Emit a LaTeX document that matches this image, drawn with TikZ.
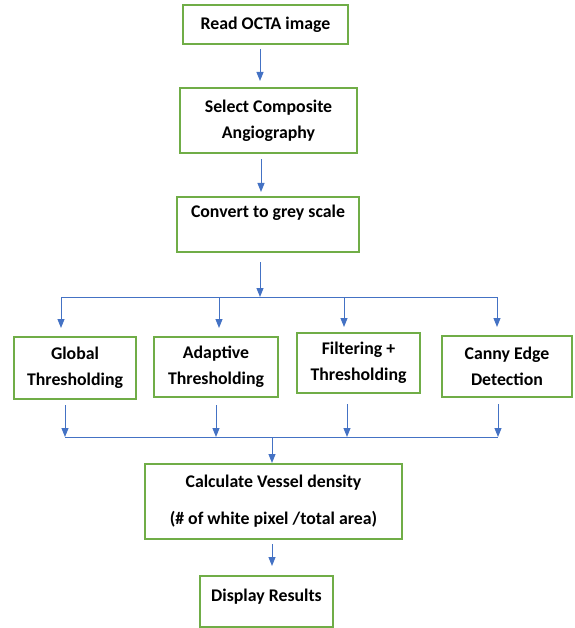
\documentclass[tikz,border=0pt]{standalone}
\usepackage{fontspec}
\setmainfont{Carlito}
\usetikzlibrary{arrows.meta}

\definecolor{boxgreen}{HTML}{70AD47}
\definecolor{arrowblue}{HTML}{4472C4}

\tikzset{
	stage/.style={draw=boxgreen, line width=2pt, fill=white, align=center, inner sep=0pt,
		font=\bfseries\fontsize{17.8}{26}\selectfont},
	flow/.style={draw=arrowblue, line width=1pt, -{Triangle[width=7pt,length=9pt]}},
	joinline/.style={draw=arrowblue, line width=1pt},
}

\begin{document}
\begin{tikzpicture}[x=1pt,y=-1pt]
\useasboundingbox (0,0) rectangle (574,628);

	%read image
\node[stage, minimum width=165, minimum height=39] (read) at (265.5,24.5) {Read OCTA image};

	%composite angiography
\node[stage, minimum width=177, minimum height=65] (composite) at (268.5,120.5) {Select Composite\\Angiography};

	%grey scale
\node[stage, minimum width=182, minimum height=55] (grey) at (268,224.5) {Convert to grey scale\\\mbox{}};


%four methods
\node[stage, minimum width=122, minimum height=62] (global) at (75,368) {Global\\Thresholding};
\node[stage, minimum width=124, minimum height=60] (adaptive) at (216,367) {Adaptive\\Thresholding};
\node[stage, minimum width=123, minimum height=60] (filtering) at (358.5,363) {Filtering +\\Thresholding};
\node[stage, minimum width=130, minimum height=61] (canny) at (507,366.5) {Canny Edge\\Detection};

	%vessel density
\node[stage, minimum width=257, minimum height=75] (density) at (273.5,501.5) {Calculate Vessel density\\[11pt](\# of white pixel /total area)};

	%results
\node[stage, minimum width=133, minimum height=51] (results) at (266.5,601.5) {Display Results\\[-14pt]\mbox{}};

%split and merge points
\coordinate (split) at (260,297);
\coordinate (s1) at (61,297);
\coordinate (s2) at (219,297);
\coordinate (s3) at (344,297);
\coordinate (s4) at (497,297);
\coordinate (merge) at (272,437);
\coordinate (m1) at (65,437);
\coordinate (m2) at (216,437);
\coordinate (m3) at (347,437);
\coordinate (m4) at (498,437);

%arrows
\draw[flow, shorten <=4pt, shorten >=6pt] ([xshift=-5.5pt]read.south) -- ([xshift=-5.5pt]read.south |- composite.north);
\draw[flow, shorten <=5pt, shorten >=4pt] ([xshift=-7.5pt]composite.south) -- ([xshift=-7.5pt]composite.south |- grey.north);
\draw[flow, shorten <=9pt] (split |- grey.south) -- (split);

\draw[joinline] (s1) -- (s4);
\draw[flow, shorten >=8pt] (s1) -- (s1 |- global.north);
\draw[flow, shorten >=8pt] (s2) -- (s2 |- adaptive.north);
\draw[flow, shorten >=5pt] (s3) -- (s3 |- filtering.north);
\draw[flow, shorten >=8pt] (s4) -- (s4 |- canny.north);

\draw[flow, shorten <=5pt] (m1 |- global.south) -- (m1);
\draw[flow, shorten <=7pt] (m2 |- adaptive.south) -- (m2);
\draw[flow, shorten <=10pt] (m3 |- filtering.south) -- (m3);
\draw[flow, shorten <=6pt] (m4 |- canny.south) -- (m4);
\draw[joinline] (m1) -- (m4);

\draw[flow] (merge) -- (merge |- density.north);
\draw[flow, shorten <=4pt, shorten >=9pt] (merge |- density.south) -- (merge |- results.north);

\end{tikzpicture}
\end{document}
